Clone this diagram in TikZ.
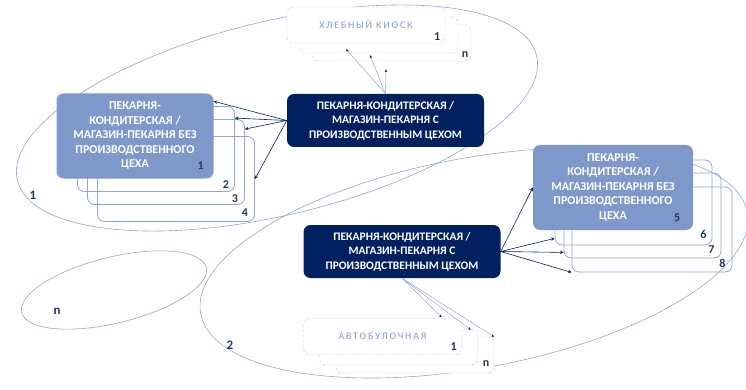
\documentclass[tikz,border=0pt]{standalone}
\usepackage{fontspec}
\setmainfont{Carlito}[BoldFont={Carlito Bold}]
\newfontfamily\spacedfont[LetterSpace=18]{Carlito}
\usetikzlibrary{arrows.meta, calc, positioning}
\definecolor{navy}{HTML}{002060}
\definecolor{steel}{HTML}{7F98CA}
\definecolor{pale}{HTML}{8FA6D8}
\definecolor{ghost}{HTML}{BCC8E6}
\definecolor{ghosttext}{HTML}{8498CC}
\definecolor{numcol}{HTML}{1F3864}

\begin{document}
\begin{tikzpicture}[x=1pt, y=-1pt, >=stealth, font=\bfseries\fontsize{12}{14.5}\selectfont]
\tikzset{own/.style={fill=navy, text=white, rounded corners=7pt, minimum width=197pt, minimum height=53pt, align=center, inner sep=0pt, font=\bfseries\fontsize{11.5}{14.5}\selectfont}, noown/.style={fill=steel, text=white, rounded corners=7pt, minimum width=157pt, minimum height=85pt, align=center, inner sep=0pt}, stackbox/.style={draw=pale, rounded corners=7pt, minimum width=157pt, minimum height=85pt, line width=0.8pt}, small/.style={draw=ghost, densely dashed, fill=white, rounded corners=6pt, minimum width=158pt, minimum height=36pt, font=\spacedfont\mdseries\fontsize{10}{12}\selectfont, text=ghosttext}, num/.style={text=numcol, inner sep=0pt}, zone/.style={draw=pale, line width=0.6pt}, link/.style={->, navy, line width=0.6pt}, thinlink/.style={-{Stealth[length=3pt, width=2.5pt, color=navy]}, ghosttext, line width=0.4pt}, tag/.style={text=numcol, font=\bfseries\fontsize{13}{15}\selectfont}}
\useasboundingbox (0,0) rectangle (746,390);
% groups
\draw[zone, rotate around={13.5:(277,118)}] (277,118) ellipse [x radius=267pt, y radius=97pt];
\draw[zone, rotate around={10.5:(474,263)}] (474,263) ellipse [x radius=278pt, y radius=105pt];
\draw[zone, rotate around={13.7:(114,290)}] (114,290) ellipse [x radius=95pt, y radius=33pt];
\node[tag] (g1) at (33,195) {1};
\node[tag] (g2) at (230,345) {2};
\node[tag] (gn) at (57,311) {n};
% group 1
\node[stackbox] (LB4) at (176,179) {};
\node[stackbox] (LB3) at (166,162) {};
\node[stackbox] (LB2) at (156,149) {};
\node[noown] (LB1) at (135,136) {ПЕКАРНЯ-\\КОНДИТЕРСКАЯ /\\МАГАЗИН-ПЕКАРНЯ БЕЗ\\ПРОИЗВОДСТВЕННОГО\\ЦЕХА};
\node[num] (l1) at ($(LB1.south east)+(-13,-13)$) {1};
\node[num] (l2) at ($(LB2.south east)+(-9,-7)$) {2};
\node[num] (l3) at ($(LB3.south east)+(-10,-6)$) {3};
\node[num] (l4) at ($(LB4.south east)+(-10,-9)$) {4};
\node[small] (Kn) at (392,43) {};
\node[small] (K2) at (379,35) {};
\node[small] (K1) at (366,25) {ХЛЕБНЫЙ КИОСК};
\node[num] (k1) at ($(K1.south east)+(-8,-7)$) {1};
\node[num] (kn) at ($(Kn.south east)+(-6,-7)$) {n};
\node[own] (D1) at (385.5,120.5) {ПЕКАРНЯ-КОНДИТЕРСКАЯ /\\МАГАЗИН-ПЕКАРНЯ С\\ПРОИЗВОДСТВЕННЫМ ЦЕХОМ};
\draw[link] (D1.west) -- ($(LB1.north east)+(0,8)$);
\draw[link] (D1.west) -- ($(LB2.north east)+(0,12)$);
\draw[link] (D1.west) -- ($(LB3.north east)+(0,10)$);
\draw[link] (D1.west) -- (LB4.east);
\draw[thinlink] (D1.north) -- ($(K1.south)+(-20,6)$);
\draw[thinlink] (D1.north) -- ($(K2.south)+(-9,2)$);
\draw[thinlink] (D1.north) -- ($(Kn.south)+(-6,8)$);
% group 2
\node[stackbox, minimum width=160pt] (R8) at (652,229.5) {};
\node[stackbox] (R7) at (642.5,215.5) {};
\node[stackbox] (R6) at (633.5,202.5) {};
\node[noown, minimum width=160pt] (R5) at (613,187.5) {ПЕКАРНЯ-\\КОНДИТЕРСКАЯ /\\МАГАЗИН-ПЕКАРНЯ БЕЗ\\ПРОИЗВОДСТВЕННОГО\\ЦЕХА};
\node[num] (r5) at ($(R5.south east)+(-16,-13)$) {5};
\node[num] (r6) at ($(R6.south east)+(-9,-11)$) {6};
\node[num] (r7) at ($(R7.south east)+(-10,-9)$) {7};
\node[num] (r8) at ($(R8.south east)+(-10,-9)$) {8};
\node[small] (An) at (415,355) {};
\node[small] (A2) at (398.5,347) {};
\node[small] (A1) at (382.5,336.5) {АВТОБУЛОЧНАЯ};
\node[num] (a1) at ($(A1.south east)+(-8,-8)$) {1};
\node[num] (an) at ($(An.south east)+(-8,-10)$) {n};
\node[own] (D2) at (402,251.5) {ПЕКАРНЯ-КОНДИТЕРСКАЯ /\\МАГАЗИН-ПЕКАРНЯ С\\ПРОИЗВОДСТВЕННЫМ ЦЕХОМ};
\draw[link] (D2.east) -- (R5.west);
\draw[link] (D2.east) -- ($(R6.south west)+(0,-7)$);
\draw[link] (D2.east) -- ($(R7.south west)+(0,-6)$);
\draw[link] (D2.east) -- (R8.south west);
\draw[thinlink] (D2.south) -- ($(A1.north east)+(-20,-1)$);
\draw[thinlink] (D2.south) -- ($(A2.north east)+(-7,1)$);
\draw[thinlink] (D2.south) -- (An.north east);
\end{tikzpicture}
\end{document}
